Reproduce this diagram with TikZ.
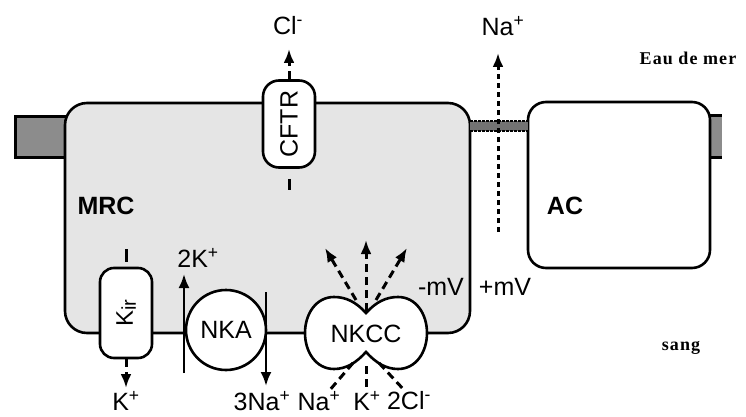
\documentclass[tikz,border=0pt]{standalone}
\usepackage{fontspec}
\setmainfont{Liberation Sans}
\newfontfamily\serifb[LetterSpace=6]{Liberation Serif}
\usetikzlibrary{arrows.meta}
\begin{document}
\begin{tikzpicture}[x=1pt,y=-1pt,
  cellbox/.style={draw, line width=2.6pt, rounded corners=22pt, inner sep=0pt},
  prot/.style={draw, line width=2.6pt, fill=white, inner sep=0pt},
  lab/.style={font=\fontsize{25}{28}\selectfont, inner sep=0pt},
  blab/.style={font=\fontsize{25}{28}\selectfont\bfseries, inner sep=0pt},
  slab/.style={font=\fontsize{18}{20}\selectfont\serifb\bfseries, inner sep=0pt},
  tipstyle/.style={-{Latex[length=14pt,width=11pt]}},
  solidarrow/.style={line width=2.4pt, tipstyle},
  dasharrow/.style={line width=3pt, dash pattern=on 8pt off 5pt, tipstyle},
  dotarrow/.style={line width=3pt, dash pattern=on 5pt off 4pt, tipstyle},
  dashline/.style={line width=3pt, dash pattern=on 8pt off 5pt},
  graybar/.style={fill=black!45, draw, line width=3pt}
]
\useasboundingbox (0,0) rectangle (746,417);
% side bars
\draw[graybar] (15,117) rectangle (66,157);
\fill[black!45] (708,116) rectangle (722,157);
\draw[line width=3pt] (708,116) -- (722,116) (708,157) -- (722,157);
% cells
\node[cellbox, fill=black!10, minimum width=405, minimum height=230] (mrc) at (267.5,218) {};
\node[cellbox, fill=white, rounded corners=18pt, minimum width=182, minimum height=166] (ac) at (619,185) {};
% junction
\fill[black!55] (470,121) rectangle (528,131);
\draw[line width=2.4pt, dash pattern=on 2.5pt off 1.5pt] (470,121) -- (528,121) (470,131) -- (528,131);
% labels inside cells
\node[blab] (mrclab) at (106,206) {MRC};
\node[blab] (aclab) at (565,206) {AC};
% Na+ paracellular
\node[lab] (na) at (503,26) {Na\textsuperscript{+}};
\coordinate (natip) at (498,53);
\coordinate (nabot) at (498,232);
\draw[dotarrow] (nabot) -- (natip);
% CFTR
\node[prot, rounded corners=16pt, minimum width=52, minimum height=87, font=\fontsize{25}{28}\selectfont] (cftr) at (289,124) {\rotatebox{90}{CFTR}};
\node[lab] (cl) at (288,26) {Cl\textsuperscript{-}};
\coordinate (cltip) at (289,49);
\coordinate (clbot) at (289,190);
\draw[dasharrow] (cftr.north) -- (cltip);
\draw[line width=3pt, dash pattern=on 0pt off 10pt on 13pt off 100pt] (cftr.south) -- (clbot);
% Kir
\node[prot, rounded corners=14pt, minimum width=52, minimum height=90, font=\fontsize{24}{26}\selectfont] (kir) at (126,313) {\rotatebox{90}{K{\fontsize{20}{20}\selectfont\raisebox{-3pt}{ir}}}};
\coordinate (kirtop) at (126,249);
\coordinate (kirtip) at (126,388);
\draw[line width=3pt, dash pattern=on 0pt off 5pt on 14pt off 100pt] (kir.north) -- (kirtop);
\draw[dasharrow] (kir.south) -- (kirtip);
\node[lab] (kout) at (126,401) {K\textsuperscript{+}};
% NKA
\node[prot, circle, minimum size=80, font=\fontsize{25}{28}\selectfont] (nka) at (226,330) {NKA};
\coordinate (ka) at (184,373);
\coordinate (kb) at (184,274);
\coordinate (naa) at (266,292);
\coordinate (nab) at (266,386);
\draw[solidarrow] (ka) -- (kb);
\draw[solidarrow] (naa) -- (nab);
\node[lab] (k2) at (198,258) {2K\textsuperscript{+}};
\node[lab] (na3) at (262,401) {3Na\textsuperscript{+}};
% NKCC
\draw[prot] (366,313)
 .. controls (356,302) and (346,297) .. (334,297)
 .. controls (316,297) and (305,314) .. (305,333)
 .. controls (305,352) and (316,369) .. (334,369)
 .. controls (346,369) and (356,363) .. (366,352)
 .. controls (376,363) and (386,369) .. (398,369)
 .. controls (416,369) and (427,352) .. (427,333)
 .. controls (427,314) and (416,297) .. (398,297)
 .. controls (386,297) and (376,302) .. (366,313) -- cycle;
\node[lab] (nkcc) at (366,334) {NKCC};
\coordinate (u1a) at (356,300); \coordinate (u1b) at (325,248);
\coordinate (u2a) at (366,311); \coordinate (u2b) at (366,240);
\coordinate (u3a) at (376,300); \coordinate (u3b) at (407,248);
\draw[dasharrow] (u1a) -- (u1b);
\draw[dasharrow] (u2a) -- (u2b);
\draw[dasharrow] (u3a) -- (u3b);
\coordinate (d1a) at (353,363); \coordinate (d1b) at (329,391);
\coordinate (d2a) at (366,366); \coordinate (d2b) at (366,390);
\coordinate (d3a) at (379,363); \coordinate (d3b) at (405,391);
\draw[dashline] (d1a) -- (d1b);
\draw[dashline] (d2a) -- (d2b);
\draw[dashline] (d3a) -- (d3b);
\node[lab] (nan) at (319,401) {Na\textsuperscript{+}};
\node[lab] (kn) at (367,401) {K\textsuperscript{+}};
\node[lab] (cln) at (409,401) {2Cl\textsuperscript{-}};
% potentials
\node[lab] (mvm) at (441,287) {-mV};
\node[lab] (mvp) at (505,287) {+mV};
% sides
\node[slab] (eau) at (688,58) {Eau de mer};
\node[slab] (sang) at (681,348) {sang};
\end{tikzpicture}
\end{document}
